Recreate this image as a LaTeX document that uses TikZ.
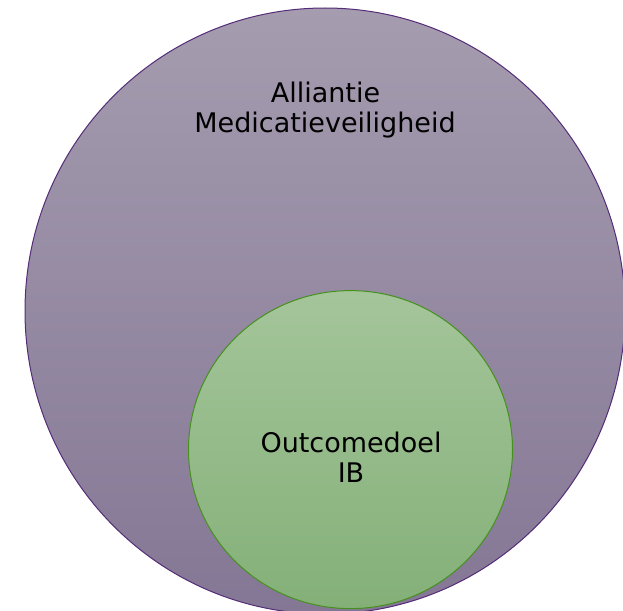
\documentclass[tikz,border=0pt]{standalone}
\usepackage{fontspec}
\setmainfont{DejaVu Sans}
\usetikzlibrary{shapes.geometric}
\definecolor{purpTop}{RGB}{165,156,175}
\definecolor{purpBot}{RGB}{132,119,149}
\definecolor{purpLine}{RGB}{84,44,120}
\definecolor{greenTop}{RGB}{164,197,154}
\definecolor{greenBot}{RGB}{132,176,120}
\definecolor{greenLine}{RGB}{70,145,30}
\tikzset{
  bigset/.style={ellipse, draw=purpLine, line width=1pt, top color=purpTop, bottom color=purpBot, inner sep=0pt},
  smallset/.style={ellipse, draw=greenLine, line width=1pt, top color=greenTop, bottom color=greenBot, inner sep=0pt},
  lbl/.style={font=\fontsize{27}{30}\selectfont, text=black, anchor=base, inner sep=0pt}
}
\begin{document}
\begin{tikzpicture}[x=1pt,y=-1pt]
\useasboundingbox (0,0) rectangle (623,610);
\node[bigset, minimum width=600pt, minimum height=606pt] (big) at (325,311) {};
\node[smallset, minimum width=324pt, minimum height=318pt] (small) at (350.5,449.6) {};
\node[lbl] (t1) at (325.5,102) {Alliantie};
\node[lbl] (t2) at (325,132) {Medicatieveiligheid};
\node[lbl] (t3) at (351,452) {Outcomedoel};
\node[lbl] (t4) at (351,482) {IB};
\end{tikzpicture}
\end{document}
